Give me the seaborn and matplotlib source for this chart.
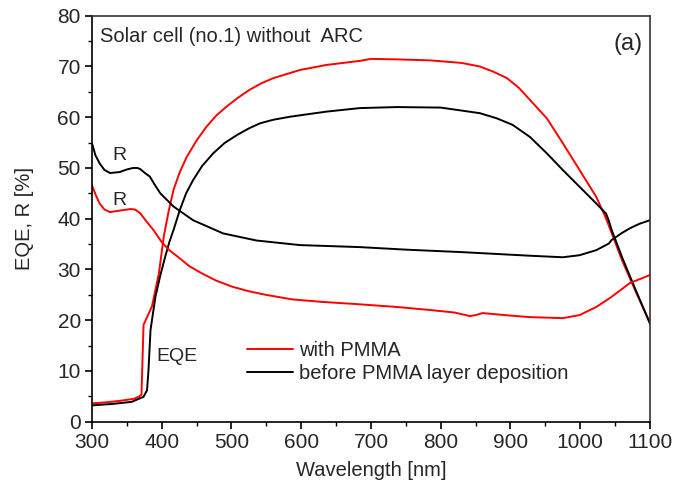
import numpy as np
import pandas as pd
import matplotlib
matplotlib.use("Agg")
import matplotlib.pyplot as plt
from matplotlib.lines import Line2D
from matplotlib.ticker import MultipleLocator
import seaborn as sns

# EQE of the cell with PMMA coating
eqe_pmma_wl = [300, 320, 340, 360, 367, 371, 374, 386, 396, 403, 410, 417, 426, 436, 450, 464, 478, 493, 510, 526,
               543, 560, 598, 636, 684, 700, 737, 785, 830, 856, 875, 895, 912, 928, 952, 975, 999, 1023, 1036,
               1045, 1060, 1080, 1100]
eqe_pmma = [3.6, 3.8, 4.1, 4.5, 4.9, 5.3, 19.1, 22.7, 29.2, 36.5, 41.5, 45.7, 49.2, 52.2, 55.4, 58.1, 60.3, 62.1, 63.9, 65.4,
            66.7, 67.7, 69.3, 70.3, 71.1, 71.5, 71.4, 71.2, 70.7, 70.0, 69.0, 67.7, 65.8, 63.4, 59.8, 54.9, 49.6, 44.3, 40.4,
            37.2, 31.8, 25.5, 19.5]

# EQE before PMMA layer deposition
eqe_bare_wl = [300, 330, 357, 374, 379, 381, 384, 391, 398, 405, 411, 417, 426, 435, 445, 458, 474, 490, 508, 525,
               541, 560, 584, 636, 684, 737, 800, 856, 880, 903, 928, 952, 975, 999, 1023, 1037, 1041, 1045,
               1060, 1080, 1100]
eqe_bare = [3.2, 3.5, 3.9, 4.9, 6.2, 10.0, 18.1, 24.6, 28.8, 32.5, 35.4, 37.8, 41.7, 45.0, 47.6, 50.4, 52.9, 54.9, 56.5, 57.8,
            58.8, 59.5, 60.1, 61.1, 61.8, 62.0, 61.9, 60.8, 59.8, 58.5, 56.1, 52.9, 49.6, 46.3, 43.0, 41.0, 39.6, 37.8,
            32.4, 25.8, 19.3]

# Reflectance with PMMA coating
r_pmma_wl = [300, 306, 311, 318, 326, 340, 355, 362, 369, 378, 388, 400, 410, 424, 440, 458, 478, 501, 525,
             549, 587, 630, 676, 737, 785, 820, 842, 850, 860, 900, 928, 975, 999, 1023, 1045, 1071, 1100]
r_pmma = [46.6, 44.5, 43.0, 41.8, 41.3, 41.6, 41.9, 41.8, 41.1, 39.5, 37.8, 35.4, 33.9, 32.4, 30.6, 29.2, 27.8, 26.6, 25.7,
          25.0, 24.1, 23.6, 23.2, 22.6, 22.0, 21.5, 20.8, 21.0, 21.4, 20.9, 20.6, 20.4, 21.0, 22.6, 24.6, 27.3, 28.9]

# Reflectance before PMMA layer deposition
r_bare_wl = [300, 305, 311, 318, 326, 340, 350, 359, 365, 369, 376, 383, 390, 398, 417, 445, 488, 536, 598,
             684, 750, 832, 928, 975, 999, 1023, 1041, 1045, 1060, 1071, 1085, 1100]
r_bare = [54.9, 52.5, 50.9, 49.6, 49.0, 49.2, 49.7, 50.0, 50.0, 49.8, 49.0, 48.3, 46.7, 45.0, 42.4, 39.7, 37.1, 35.7, 34.8,
          34.4, 33.9, 33.4, 32.7, 32.4, 32.8, 33.8, 35.1, 35.8, 37.2, 38.1, 39.0, 39.7]

legend_labels = ["with PMMA", "before PMMA layer deposition"]
colors = ["#ff0000", "#000000"]

sns.set_theme(style="ticks")
plt.rcParams["font.family"] = ["Liberation Sans", "DejaVu Sans"]

frames = []
for name, wl, val in [("eqe_pmma", eqe_pmma_wl, eqe_pmma), ("eqe_bare", eqe_bare_wl, eqe_bare),
                      ("r_pmma", r_pmma_wl, r_pmma), ("r_bare", r_bare_wl, r_bare)]:
    frames.append(pd.DataFrame({"wl": wl, "val": val, "curve": name}))
df = pd.concat(frames, ignore_index=True)

fig = plt.figure(figsize=(6.76, 4.92), dpi=100)
ax = fig.add_axes([0.136, 0.143, 0.8255, 0.825])

palette = {"eqe_pmma": colors[0], "r_pmma": colors[0], "eqe_bare": colors[1], "r_bare": colors[1]}
sns.lineplot(data=df, x="wl", y="val", hue="curve", palette=palette, units="curve",
             estimator=None, sort=False, linewidth=1.4, legend=False, ax=ax)
for ln in ax.get_lines():
    ln.set_solid_joinstyle("round")

ax.set_xlim(300, 1100)
ax.set_ylim(0, 80)
ax.xaxis.set_major_locator(MultipleLocator(100))
ax.xaxis.set_minor_locator(MultipleLocator(50))
ax.yaxis.set_major_locator(MultipleLocator(10))
ax.yaxis.set_minor_locator(MultipleLocator(5))
ax.tick_params(which="major", direction="out", length=5, width=1.2, labelsize=15, color="black",
               top=False, right=False, pad=3)
ax.tick_params(which="minor", direction="out", length=3, width=1.0, color="black", top=False, right=False)
for s in ax.spines.values():
    s.set_linewidth(1.2)
    s.set_color("#333333")
ax.spines["left"].set_color("black")
ax.spines["bottom"].set_color("black")

ax.set_xlabel("Wavelength [nm]", fontsize=14.5, labelpad=7)
ax.set_ylabel("EQE, R [%]", fontsize=14.5, labelpad=17)

ax.text(311.5, 76.0, "Solar cell (no.1) without  ARC", fontsize=14.5, va="center", ha="left")
ax.text(1090, 74.4, "(a)", fontsize=17, va="center", ha="right")
ax.text(340, 52.5, "R", fontsize=14, va="center", ha="center")
ax.text(340, 43.6, "R", fontsize=14, va="center", ha="center")
ax.text(393, 12.9, "EQE", fontsize=14, va="center", ha="left")

handles = [Line2D([], [], color=c, linewidth=1.4) for c in colors]
ax.legend(handles, legend_labels, loc="center left", bbox_to_anchor=(0.278, 0.147), frameon=False,
          fontsize=14.5, handlelength=2.3, handletextpad=0.3, labelspacing=0.2,
          borderpad=0, borderaxespad=0)

fig.savefig("out.png", dpi=100)
